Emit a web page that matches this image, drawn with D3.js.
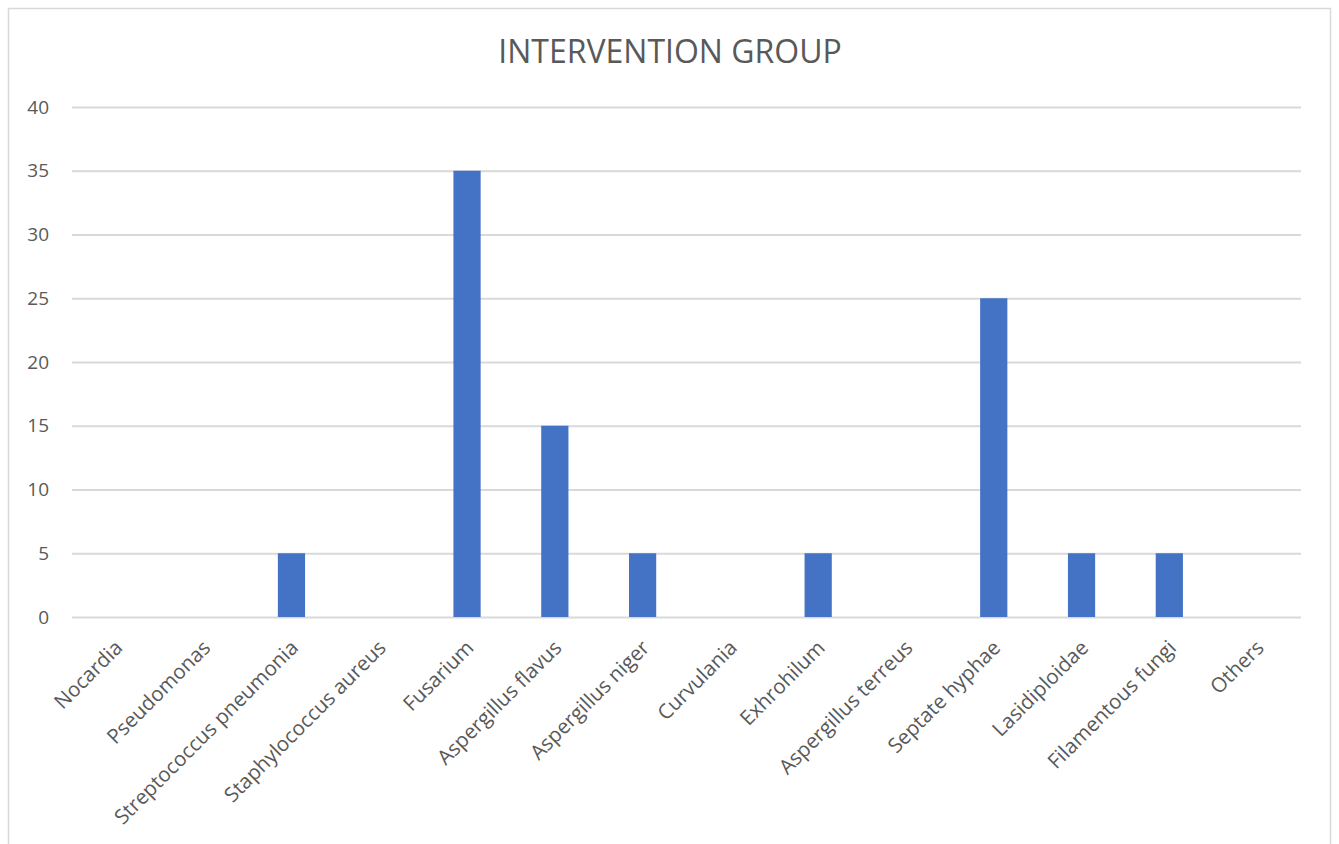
<!DOCTYPE html>
<meta charset="utf-8">
<style>
body { margin: 0; background: #fff; }
text { font-family: "Open Sans", sans-serif; fill: #595959; }
.grid line { stroke: #d9d9d9; stroke-width: 2; }
.grid path { stroke-width: 0; }
.axis path, .axis line { display: none; }
</style>
<body>
<script src="https://d3js.org/d3.v7.min.js"></script>
<script>

var categories = ["Nocardia", "Pseudomonas", "Streptococcus pneumonia", "Staphylococcus aureus",
    "Fusarium", "Aspergillus flavus", "Aspergillus niger", "Curvulania", "Exhrohilum",
    "Aspergillus terreus", "Septate hyphae", "Lasidiploidae", "Filamentous fungi", "Others"];
var values = [0, 0, 5, 0, 35, 15, 5, 0, 5, 0, 25, 5, 5, 0];
var yTicks = [0, 5, 10, 15, 20, 25, 30, 35, 40];
var title = "INTERVENTION GROUP";

var W = 1339, H = 844;
var margin = {top: 107, right: 38, bottom: 227, left: 72},
    width = W - margin.left - margin.right,
    height = H - margin.top - margin.bottom;

var svg = d3.select("body").append("svg")
    .attr("width", W)
    .attr("height", H);

// outer chart border
svg.append("rect")
    .attr("x", 8.5).attr("y", 8.5)
    .attr("width", 1322).attr("height", 860)
    .attr("fill", "none")
    .attr("stroke", "#d9d9d9")
    .attr("stroke-width", 1.5);

svg.append("text")
    .attr("x", 670)
    .attr("y", 63)
    .attr("text-anchor", "middle")
    .style("font-size", "32px")
    .text(title);

var g = svg.append("g")
    .attr("transform", "translate(" + margin.left + "," + margin.top + ")");

var x = d3.scaleBand()
    .domain(categories)
    .range([0, width])
    .paddingInner(0.69)
    .paddingOuter(0.345);

var y = d3.scaleLinear()
    .domain([0, 40])
    .range([height, 0]);

g.append("g")
    .attr("class", "grid")
    .call(d3.axisLeft(y).tickValues(yTicks).tickSize(-width).tickFormat(""));

g.append("g")
    .attr("class", "axis")
    .call(d3.axisLeft(y).tickValues(yTicks).tickSize(0).tickPadding(23))
    .selectAll("text")
    .style("font-size", "19px")
    .style("fill", "#595959")
    .style("font-family", "'Open Sans', sans-serif");

g.selectAll(".bar")
    .data(values)
    .enter().append("rect")
    .attr("class", "bar")
    .attr("x", function(d, i) { return x(categories[i]); })
    .attr("y", function(d) { return y(d); })
    .attr("width", x.bandwidth())
    .attr("height", function(d) { return height - y(d); })
    .attr("fill", "#4472c4");

g.selectAll(".xlabel")
    .data(categories)
    .enter().append("text")
    .attr("class", "xlabel")
    .attr("text-anchor", "end")
    .attr("transform", function(d) {
        var cx = x(d) + x.bandwidth() / 2 + 8;
        return "translate(" + cx + "," + (height + 32) + ") rotate(-45)";
    })
    .style("font-size", "20.5px")
    .text(function(d) { return d; });

</script>
